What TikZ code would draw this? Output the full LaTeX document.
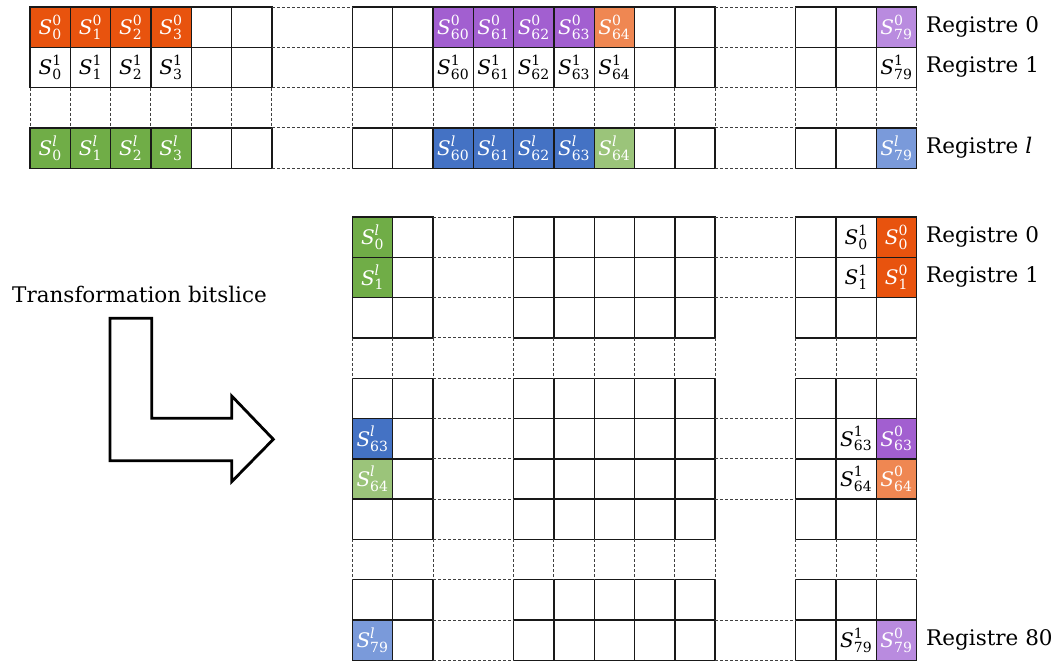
\documentclass[tikz,border=0pt]{standalone}
\usepackage{fix-cm}
\usepackage{amsmath}
\usepackage{fontspec}
\setmainfont{DejaVu Serif}
\definecolor{cOr}{HTML}{E8530E}
\definecolor{cPu}{HTML}{A25FD0}
\definecolor{cLor}{HTML}{EF8752}
\definecolor{cLpu}{HTML}{B98BDF}
\definecolor{cGr}{HTML}{70AD47}
\definecolor{cLgr}{HTML}{9BC47A}
\definecolor{cBl}{HTML}{4472C4}
\definecolor{cLbl}{HTML}{7A9ADA}
\newcommand{\sv}[2]{$\textit{S}^{\text{#1}}_{\text{#2}}$}
\begin{document}
\begin{tikzpicture}[x=1pt,y=-1pt,
  grid/.style={draw=black!90,line width=1.4pt},
  dline/.style={draw=black!75,line width=0.9pt,dash pattern=on 3pt off 2pt},
  cell/.style={draw=black!90,line width=1.4pt,minimum width=40.3pt,minimum height=40.3pt,inner sep=0pt,outer sep=0pt,font=\fontsize{20}{22}\selectfont},
  wcell/.style={cell,text=white},
  lab/.style={anchor=west,inner sep=0pt,font=\fontsize{21.5}{23}\selectfont}]
\useasboundingbox (0,0) rectangle (1056,661);

% ---------- top grid ----------
\foreach \r in {0,1,3}
  \foreach \k in {0,1,2,3,4,5,8,9,10,11,12,13,14,15,16,19,20,21}
    \draw[grid] (30+40.3*\k,7+40.3*\r) rectangle ++(40.3,40.3);
\foreach \r in {0,1,2,3,4} {
  \draw[dline] (30+40.3*6,7+40.3*\r) -- ++(80.6,0);
  \draw[dline] (30+40.3*17,7+40.3*\r) -- ++(80.6,0);
}
\foreach \k in {0,1,2,3,4,5,6,8,9,10,11,12,13,14,15,16,17,19,20,21,22}
  \draw[dline] (30+40.3*\k,7+40.3*2) -- ++(0,40.3);

\foreach \k/\c/\s in {0/cOr/0,1/cOr/1,2/cOr/2,3/cOr/3,10/cPu/60,11/cPu/61,12/cPu/62,13/cPu/63,14/cLor/64,21/cLpu/79}
  \node[wcell,fill=\c] (ta\k) at (50.15+40.3*\k,27.15) {\sv{0}{\s}};
\foreach \k/\s in {0/0,1/1,2/2,3/3,10/60,11/61,12/62,13/63,14/64,21/79}
  \node[cell] (tb\k) at (50.15+40.3*\k,67.45) {\sv{1}{\s}};
\foreach \k/\c/\s in {0/cGr/0,1/cGr/1,2/cGr/2,3/cGr/3,10/cBl/60,11/cBl/61,12/cBl/62,13/cBl/63,14/cLgr/64,21/cLbl/79}
  \node[wcell,fill=\c] (tc\k) at (50.15+40.3*\k,148.05) {\sv{\itshape l}{\s}};

\node[lab] (lt0) at (926,26.5) {Registre 0};
\node[lab] (lt1) at (926,66.8) {Registre 1};
\node[lab] (ltl) at (926,147.4) {Registre \textit{l}};

% ---------- bottom grid ----------
\foreach \r in {0,1,2,4,5,6,7,9,10}
  \foreach \k in {8,9,12,13,14,15,16,19,20,21}
    \draw[grid] (30+40.3*\k,217+40.3*\r) rectangle ++(40.3,40.3);
\foreach \r in {0,1,2,3,4,5,6,7,8,9,10,11}
  \draw[dline] (30+40.3*10,217+40.3*\r) -- ++(80.6,0);
\foreach \r in {0,1,2,5,6,7,10,11}
  \draw[dline] (30+40.3*17,217+40.3*\r) -- ++(80.6,0);
\foreach \r in {3,8}
  \foreach \k in {8,9,10,12,13,14,15,16,17,19,20,21,22}
    \draw[dline] (30+40.3*\k,217+40.3*\r) -- ++(0,40.3);

\foreach \r/\s/\cl/\co in {0/0/cGr/cOr,1/1/cGr/cOr,5/63/cBl/cPu,6/64/cLgr/cLor,10/79/cLbl/cLpu} {
  \node[wcell,fill=\cl] (bl\r) at (50.15+40.3*8,237.15+40.3*\r) {\sv{\itshape l}{\s}};
  \node[cell] (bm\r) at (50.15+40.3*20,237.15+40.3*\r) {\sv{1}{\s}};
  \node[wcell,fill=\co] (br\r) at (50.15+40.3*21,237.15+40.3*\r) {\sv{0}{\s}};
}

\node[lab] (lb0) at (926,236.5) {Registre 0};
\node[lab] (lb1) at (926,276.8) {Registre 1};
\node[lab] (lb80) at (926,639.5) {Registre 80};

% ---------- arrow ----------
\node[anchor=base west,inner sep=0pt,font=\fontsize{21.5}{23}\selectfont] (tr) at (12,302) {Transformation bitslice};
\draw[line width=2.8pt,line join=miter] (110,318.3) -- (151.7,318.3) -- (151.7,418.3) -- (231.7,418.3) -- (231.7,396) -- (273.3,439.3) -- (231.7,481.7) -- (231.7,460.7) -- (110,460.7) -- cycle;
\end{tikzpicture}
\end{document}
